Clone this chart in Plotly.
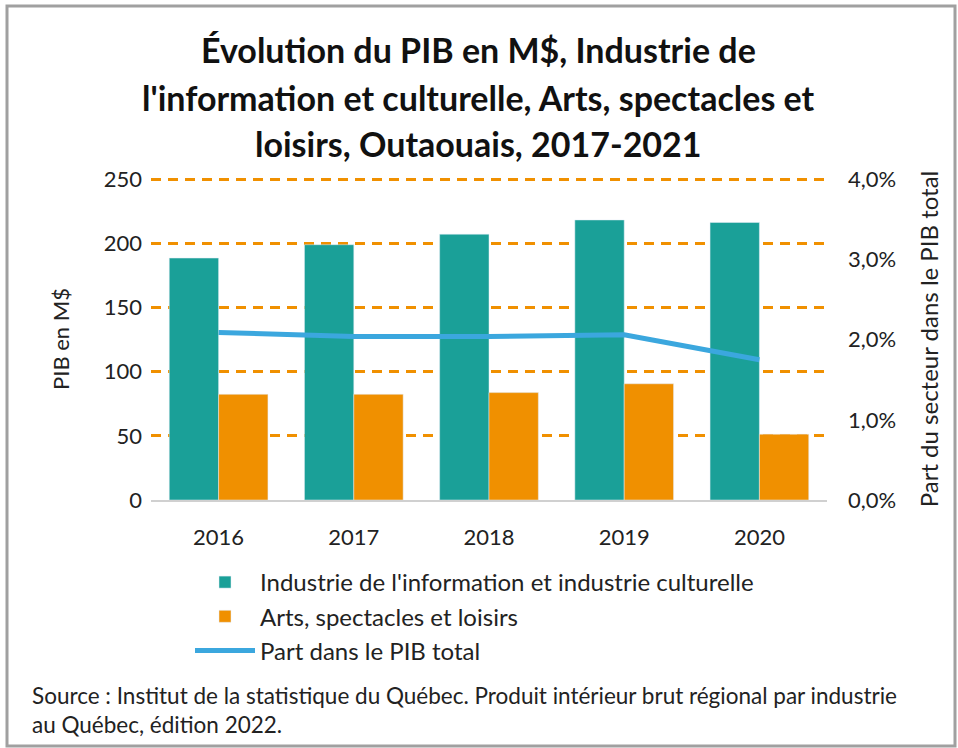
import plotly.graph_objects as go

years = ["2016", "2017", "2018", "2019", "2020"]
info_culture = [188.6, 199.0, 207.2, 218.3, 216.3]
arts_loisirs = [82.4, 82.4, 83.7, 90.6, 51.3]
part_pib = [0.0209, 0.0204, 0.0204, 0.0206, 0.0175]

names = ["Industrie de l'information et industrie culturelle",
         "Arts, spectacles et loisirs",
         "Part dans le PIB total"]
title_lines = ["Évolution du PIB en M$, Industrie de",
               "l'information et culturelle, Arts, spectacles et",
               "loisirs, Outaouais, 2017-2021"]

TEAL = "#1AA098"
ORANGE = "#F09000"
BLUE = "#3BA7DE"
FONT = "Lato, sans-serif"

PL, PR, PT, PB = 151, 827, 178, 500
PW, PH = PR - PL, PB - PT


def px(x):
    return (x - PL) / PW


def py(y):
    return (PB - y) / PH


fig = go.Figure()
fig.add_trace(go.Bar(x=years, y=info_culture, name=names[0], marker_color=TEAL,
                     legendgroup="a"))
fig.add_trace(go.Bar(x=years, y=arts_loisirs, name=names[1], marker_color=ORANGE,
                     legendgroup="b"))
fig.add_trace(go.Scatter(x=years, y=part_pib, name=names[2], yaxis="y2",
                         mode="lines", line=dict(color=BLUE, width=5),
                         legendgroup="c"))

fig.update_layout(
    width=958, height=748,
    paper_bgcolor="white", plot_bgcolor="white",
    separators=", ",
    margin=dict(l=PL, r=958 - PR, t=PT, b=748 - PB),
    font=dict(family=FONT, size=22, color="#222"),
    barmode="group", bargap=0.27, bargroupgap=0,
    xaxis=dict(showgrid=False, showline=True, linecolor="#d0d0d0", linewidth=2,
               ticks="", tickfont=dict(size=22), ticklabelstandoff=17),
    yaxis=dict(range=[0, 251], tickvals=[0, 50, 100, 150, 200, 250],
               showgrid=True, gridcolor=ORANGE,
               griddash="10px,7px", gridwidth=2.5, zeroline=False,
               tickfont=dict(size=22), ticklabelstandoff=8,
               title=dict(text="PIB en M$", font=dict(size=22), standoff=28)),
    yaxis2=dict(range=[0, 0.04 * 251 / 250], tickvals=[0, 0.01, 0.02, 0.03, 0.04],
                tickformat=".1%", overlaying="y",
                side="right", showgrid=False, zeroline=False,
                tickfont=dict(size=22), ticklabelstandoff=20,
                title=dict(text="Part du secteur dans le PIB total",
                           font=dict(size=24), standoff=26)),
    legend=dict(x=px(190), xanchor="left", y=py(560), yanchor="top",
                orientation="v", font=dict(size=24), tracegroupgap=5,
                itemwidth=60, traceorder="normal"),
    showlegend=True,
)

for i, (line, yc) in enumerate(zip(title_lines, [50, 97, 143])):
    fig.add_annotation(text="<b>" + line + "</b>", xref="paper", yref="paper",
                       x=px(478), y=py(yc), xanchor="center", yanchor="middle",
                       showarrow=False, font=dict(family=FONT, size=34, color="#111"))

src_lines = ["Source : Institut de la statistique du Québec. Produit intérieur brut régional par industrie",
             "au Québec, édition 2022."]
for line, yc in zip(src_lines, [695, 724]):
    fig.add_annotation(text=line, xref="paper", yref="paper",
                       x=px(30), y=py(yc), xanchor="left", yanchor="middle",
                       showarrow=False, font=dict(family=FONT, size=22.5, color="#222"))

# outer frame of the chart image
fig.add_shape(type="rect", xref="paper", yref="paper",
              x0=px(7), x1=px(955), y0=py(746), y1=py(6),
              line=dict(color="#a0a0a0", width=3), fillcolor="rgba(0,0,0,0)")

fig.write_html("out.html")
